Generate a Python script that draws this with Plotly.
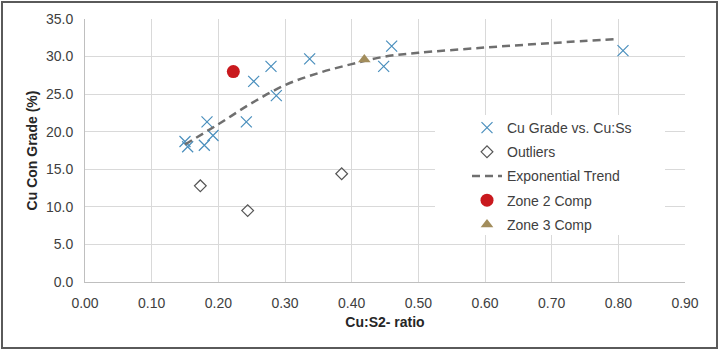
import plotly.graph_objects as go

# Data
cu_ratio = [0.150, 0.154, 0.179, 0.183, 0.192, 0.242, 0.253, 0.279, 0.287, 0.337, 0.448, 0.460, 0.807]
cu_grade = [18.7, 18.0, 18.2, 21.3, 19.5, 21.3, 26.7, 28.7, 24.8, 29.7, 28.7, 31.4, 30.8]

out_ratio = [0.173, 0.244, 0.385]
out_grade = [12.8, 9.5, 14.4]

trend_x = [0.15, 0.20, 0.25, 0.30, 0.35, 0.40, 0.45, 0.50, 0.60, 0.70, 0.80]
trend_y = [18.3, 21.0, 23.8, 26.2, 27.8, 29.0, 30.0, 30.5, 31.2, 31.8, 32.35]

zone2_x = [0.2225]
zone2_y = [28.0]
zone3_x = [0.419]
zone3_y = [29.6]

x_ticks = [0.0, 0.1, 0.2, 0.3, 0.4, 0.5, 0.6, 0.7, 0.8, 0.9]
y_ticks = [0, 5, 10, 15, 20, 25, 30, 35]

FONT = "Liberation Sans, Arial, sans-serif"

fig = go.Figure()
fig.add_trace(go.Scatter(
    x=cu_ratio, y=cu_grade, mode="markers", name="Cu Grade vs. Cu:Ss",
    marker=dict(symbol="x-thin", size=11, line=dict(color="#4a8fbd", width=1.2), color="#4a8fbd"),
    legendgroup="a"))
fig.add_trace(go.Scatter(
    x=out_ratio, y=out_grade, mode="markers", name="Outliers",
    marker=dict(symbol="diamond-open", size=9, color="#555555", line=dict(width=1.2)),
    legendgroup="b"))
fig.add_trace(go.Scatter(
    x=trend_x, y=trend_y, mode="lines", name="Exponential Trend",
    line=dict(color="#6f6f6f", width=2.5, dash="8px,5px", shape="spline"),
    legendgroup="c"))
fig.add_trace(go.Scatter(
    x=zone2_x, y=zone2_y, mode="markers", name="Zone 2 Comp",
    marker=dict(symbol="circle", size=13, color="#c9191e"),
    legendgroup="d"))
fig.add_trace(go.Scatter(
    x=zone3_x, y=zone3_y, mode="markers", name="Zone 3 Comp",
    marker=dict(symbol="triangle-up", size=11, color="#a28d5c"),
    legendgroup="e"))

L, R, T, B = 85, 35, 19, 69
W, H = 720, 351
pw, ph = W - L - R, H - T - B

def px_x(p):
    return (p - L) / pw

def px_y(p):
    return (H - B - p) / ph

# legend background box
fig.add_shape(type="rect", xref="paper", yref="paper",
              x0=px_x(435), x1=px_x(665), y0=px_y(235), y1=px_y(115),
              fillcolor="white", line=dict(width=0), layer="above")
# outer border
fig.add_shape(type="rect", xref="paper", yref="paper",
              x0=px_x(2), x1=px_x(717), y0=px_y(348), y1=px_y(2),
              fillcolor="rgba(0,0,0,0)", line=dict(color="#5a5a5a", width=2), layer="above")

fig.update_layout(
    width=W, height=H,
    margin=dict(l=L, r=R, t=T, b=B),
    paper_bgcolor="white", plot_bgcolor="white",
    font=dict(family=FONT, size=14, color="#404040"),
    showlegend=True,
    legend=dict(x=px_x(467), y=px_y(112), xanchor="left", yanchor="top",
                bgcolor="rgba(0,0,0,0)", font=dict(size=14, color="#404040"),
                tracegroupgap=3, itemwidth=30),
    xaxis=dict(range=[0, 0.9], tickvals=x_ticks, tickformat=".2f",
               showgrid=True, gridcolor="#d9d9d9", gridwidth=1,
               showline=True, linecolor="#bfbfbf", zeroline=False,
               ticks="", ticklabelstandoff=8,
               title=dict(text="<b>Cu:S2- ratio</b>", font=dict(size=14, color="#262626"), standoff=7)),
    yaxis=dict(range=[0, 35], tickvals=y_ticks, tickformat=".1f",
               showgrid=True, gridcolor="#d9d9d9", gridwidth=1,
               showline=True, linecolor="#bfbfbf", zeroline=False,
               ticks="", ticklabelstandoff=8,
               title=dict(text="<b>Cu Con Grade (%)</b>", font=dict(size=14, color="#262626"), standoff=5)),
)

fig.write_html("out.html")
